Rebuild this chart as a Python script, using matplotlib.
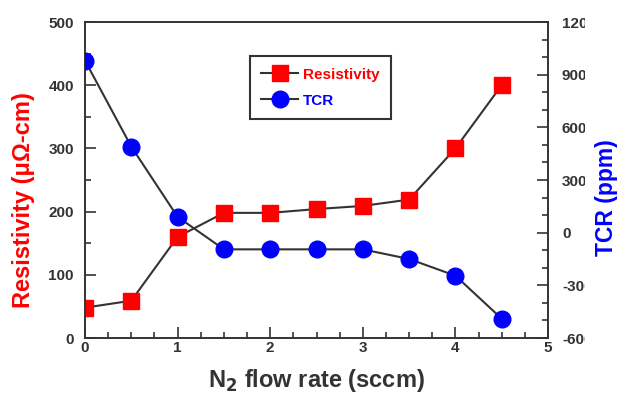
import numpy as np
import matplotlib.pyplot as plt
from matplotlib.ticker import MultipleLocator
from matplotlib.lines import Line2D
from matplotlib.transforms import Bbox

# data
n2_flow = [0, 0.5, 1, 1.5, 2, 2.5, 3, 3.5, 4, 4.5]
resistivity = [48, 59, 160, 198, 198, 204, 209, 219, 300, 400]
tcr = [980, 490, 90, -95, -95, -95, -95, -150, -245, -490]

plt.rcParams['font.family'] = ['Liberation Sans', 'DejaVu Sans']
plt.rcParams['font.weight'] = 'bold'
plt.rcParams['axes.unicode_minus'] = False

fig = plt.figure(figsize=(6.21, 3.95), dpi=100, facecolor="w")
ax = fig.add_axes([85 / 621, 1 - 338 / 395, 463 / 621, 316 / 395])
ax2 = ax.twinx()

ink = "#333333"
ax.plot(n2_flow, resistivity, color=ink, lw=1.5, marker="s", ms=11.5,
        mfc="red", mec="red", zorder=3)
ax2.plot(n2_flow, tcr, color=ink, lw=1.5, marker="o", ms=12,
         mfc="blue", mec="blue", zorder=3)

ax.set_xlim(0, 5)
ax.set_ylim(0, 500)
ax2.set_ylim(-600, 1200)
ax.xaxis.set_major_locator(MultipleLocator(1))
ax.xaxis.set_minor_locator(MultipleLocator(0.25))
ax.yaxis.set_major_locator(MultipleLocator(100))
ax.yaxis.set_minor_locator(MultipleLocator(50))
ax2.yaxis.set_major_locator(MultipleLocator(300))
ax2.yaxis.set_minor_locator(MultipleLocator(100))

for a in (ax, ax2):
    for s in a.spines.values():
        s.set_color(ink)
        s.set_linewidth(1.2)
    a.tick_params(which="both", direction="in", colors=ink, width=1.2,
                  labelsize=11, top=False)
    a.tick_params(which="major", length=8)
    a.tick_params(which="minor", length=4)
    for lab in a.get_xticklabels() + a.get_yticklabels():
        lab.set_fontweight("bold")
ax.tick_params(axis="x", pad=2)
ax.tick_params(axis="y", pad=8)
ax2.tick_params(axis="y", pad=10)

ax.set_xlabel("N$_\\mathbf{2}$ flow rate (sccm)", fontsize=17,
              fontweight="bold", color=ink)
ax.xaxis.set_label_coords(0.499, -0.092)
ax.set_ylabel("Resistivity (\u03bc\u03a9-cm)", fontsize=17,
              fontweight="bold", color="red")
ax.yaxis.set_label_coords(-0.108, 0.437)
ax2.set_ylabel("TCR (ppm)", fontsize=16.5, fontweight="bold", color="blue")
ax2.yaxis.set_label_coords(1.1015, 0.443)

# the right tick labels are cut off at the image edge in the original
clip = Bbox.from_extents(0, 0, 585, 395)
for lab in ax2.get_yticklabels():
    lab.set_clip_box(clip)
    lab.set_clip_on(True)

handles = [
    Line2D([], [], color=ink, lw=1.5, marker="s", ms=11, mfc="red", mec="red"),
    Line2D([], [], color=ink, lw=1.5, marker="o", ms=12, mfc="blue", mec="blue"),
]
leg = ax.legend(handles, ["Resistivity", "TCR"], loc="upper left",
                bbox_to_anchor=(0.356, 0.892), fancybox=False, framealpha=1,
                edgecolor=ink, fontsize=11, handlelength=2.4,
                handletextpad=0.3, borderpad=0.75, labelspacing=0.8,
                borderaxespad=0)
leg.get_frame().set_linewidth(1.5)
leg.get_texts()[0].set_color("red")
leg.get_texts()[1].set_color("blue")
for t in leg.get_texts():
    t.set_fontweight("bold")

fig.savefig("out.png", dpi=100)
